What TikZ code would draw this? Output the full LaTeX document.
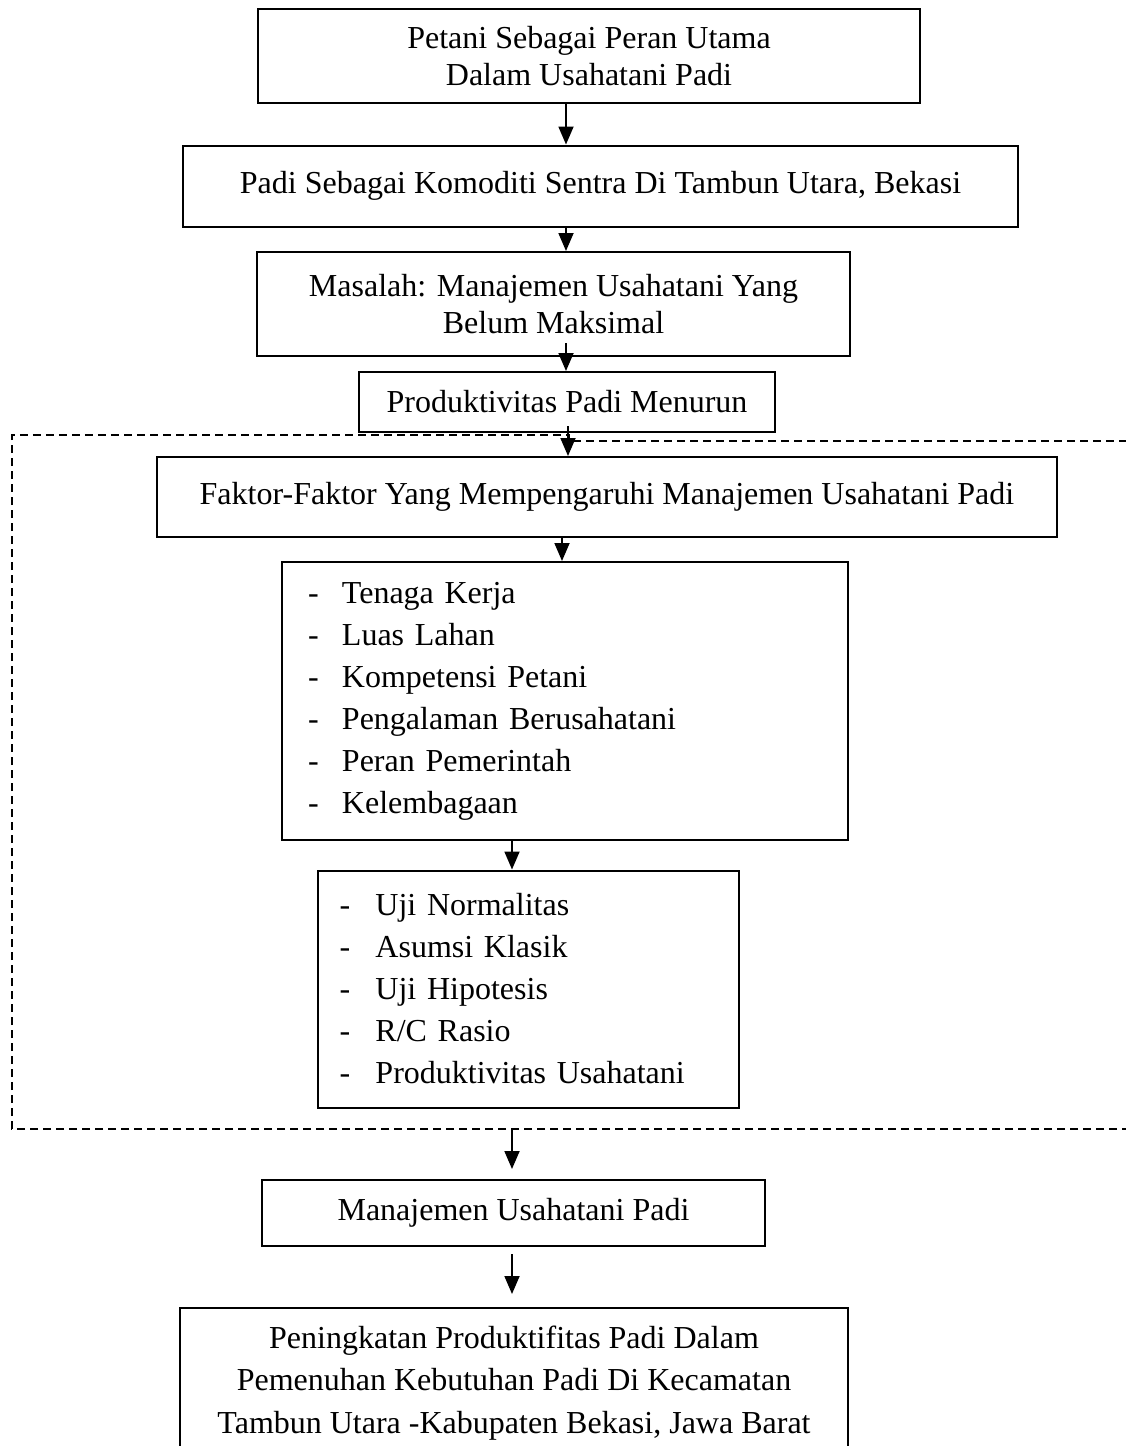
\documentclass[tikz,border=0pt]{standalone}
\usepackage{fontspec}
\setmainfont{Liberation Serif}
\usetikzlibrary{calc,arrows.meta}

\newcommand{\dashitem}[2][34pt]{\makebox[#1][l]{-}#2}

\begin{document}
\begin{tikzpicture}[x=1pt, y=-1pt,
    box/.style={rectangle, draw, line width=2pt, align=center,
                inner sep=0pt, font=\fontsize{32}{37}\selectfont},
    listbox/.style={rectangle, draw, line width=2pt, align=left,
                inner ysep=0pt, font=\fontsize{32}{42}\selectfont},
    arr/.style={-{Triangle[width=15pt,length=18pt]}, line width=1.8pt},
    frame/.style={dash pattern=on 8pt off 5pt, line width=1.3pt}]

    \useasboundingbox (0,0) rectangle (1125,1446);

    % Alur atas
    \node[box, minimum width=662, minimum height=94] (b1) at (589,56)
        {Petani Sebagai Peran Utama\\Dalam Usahatani Padi};
    \node[box, minimum width=835, minimum height=81] (b2) at (600.5,186)
        {Padi Sebagai Komoditi Sentra Di Tambun Utara, Bekasi};
    \node[box, minimum width=593, minimum height=104] (b3) at (553.5,304)
        {Masalah: Manajemen Usahatani Yang\\Belum Maksimal};
    \node[box, minimum width=416, minimum height=60] (b4) at (567,402)
        {Produktivitas Padi Menurun};

    % Faktor-faktor
    \node[box, minimum width=900, minimum height=80] (b5) at (607,497)
        {Faktor-Faktor Yang Mempengaruhi Manajemen Usahatani Padi};
    \node[listbox, inner xsep=26pt, text width=514, minimum height=278]
        (b6) at (565,701)
        {\dashitem{Tenaga Kerja}\\
         \dashitem{Luas Lahan}\\
         \dashitem{Kompetensi Petani}\\
         \dashitem{Pengalaman Berusahatani}\\
         \dashitem{Peran Pemerintah}\\
         \dashitem{Kelembagaan}};
    \node[listbox, inner xsep=22pt, text width=377, minimum height=237]
        (b7) at (528,989)
        {\dashitem[36pt]{Uji Normalitas}\\
         \dashitem[36pt]{Asumsi Klasik}\\
         \dashitem[36pt]{Uji Hipotesis}\\
         \dashitem[36pt]{R/C Rasio}\\
         \dashitem[36pt]{Produktivitas Usahatani}};

    % Hasil
    \node[box, minimum width=503, minimum height=66] (b8) at (513.5,1213)
        {Manajemen Usahatani Padi};
    \node[box, font=\fontsize{32}{42.5}\selectfont,
          minimum width=668, minimum height=150] (b9) at (514,1383)
        {Peningkatan Produktifitas Padi Dalam\\
         Pemenuhan Kebutuhan Padi Di Kecamatan\\
         Tambun Utara -Kabupaten Bekasi, Jawa Barat};

    % Bingkai putus-putus
    \draw[frame] (1130,1129) -- (12,1129) -- (12,435) -- (569,435)
        -- (569,441) -- (1130,441);

    % Kolom panah
    \coordinate (c1) at (566,0);
    \coordinate (c2) at (568,0);
    \coordinate (c3) at (562,0);
    \coordinate (c4) at (512,0);
    \coordinate (fb) at (512,1129);

    % Panah
    \draw[arr] (b1.south -| c1) -- (b2.north -| c1);
    \draw[arr] (b2.south -| c1) -- (b3.north -| c1);
    \draw[arr] ($(b3.south -| c1)+(0pt,14pt)$) -- (b4.north -| c1);
    \draw[arr] ($(b4.south -| c2)+(0pt,7pt)$) -- (b5.north -| c2);
    \draw[arr] (b5.south -| c3) -- (b6.north -| c3);
    \draw[arr] (b6.south -| c4) -- (b7.north -| c4);
    \draw[arr, shorten >=10pt] (fb) -- (b8.north -| c4);
    \draw[arr, shorten <=7pt, shorten >=13pt] (b8.south -| c4) -- (b9.north -| c4);
\end{tikzpicture}
\end{document}
